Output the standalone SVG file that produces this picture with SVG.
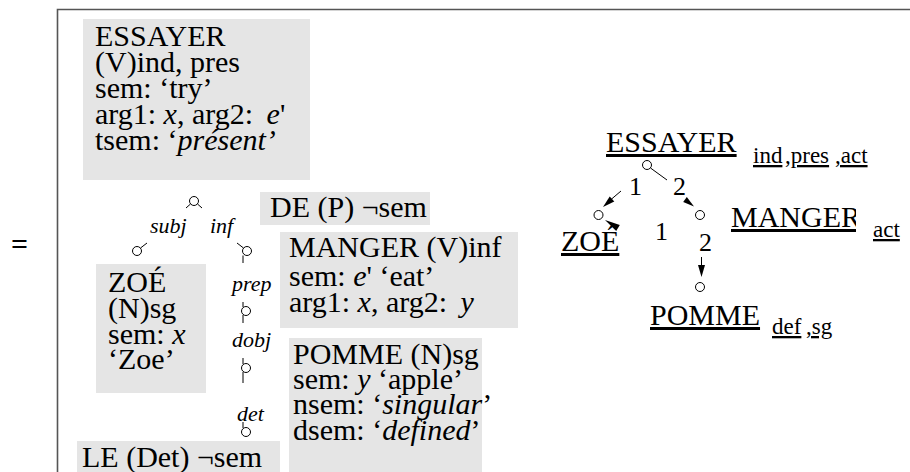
<svg xmlns="http://www.w3.org/2000/svg" width="910" height="472" viewBox="0 0 910 472">
<style>
.box{fill:#e5e5e5}
.t{font-family:"Liberation Serif","Times New Roman",serif;font-size:30px;fill:#000}
.lab{font-family:"Liberation Serif","Times New Roman",serif;font-size:22px;font-style:italic;fill:#000}
.num{font-family:"Liberation Serif","Times New Roman",serif;font-size:26px;fill:#000}
.sub{font-family:"Liberation Serif","Times New Roman",serif;font-size:23px;fill:#000;text-decoration:underline}
.ul{text-decoration:underline}
.i{font-style:italic}
.node{fill:#fff;stroke:#000;stroke-width:1}
.edge{stroke:#000;stroke-width:1;fill:none}
.ah{fill:#000;stroke:none}
.frame{stroke:#555;stroke-width:1.6;fill:none}
</style>
<defs>
<clipPath id="clipR"><rect x="700" y="180" width="156" height="70"/></clipPath>
</defs>
<path class="frame" d="M57.5,472 V9.5 H910"/>
<text class="t" x="11" y="254" font-size="32" font-weight="bold">=</text>

<g id="left-essayer">
<rect class="box" x="83" y="19" width="227" height="161"/>
<text class="t" x="95" y="46">ESSAYER</text>
<text class="t" x="95" y="72">(V)ind, pres</text>
<text class="t" x="95" y="98">sem: ‘try’</text>
<text class="t" x="95" y="124">arg1: <tspan class="i">x</tspan>, arg2: <tspan class="i" dx="6">e</tspan>'</text>
<text class="t" x="95" y="150">tsem: ‘<tspan class="i">présent’</tspan></text>
<circle class="node" cx="194" cy="201" r="4.5"/>
</g>
<g id="left-de">
<rect class="box" x="260" y="192" width="170" height="33"/>
<text class="t" x="270" y="217">DE (P) ¬sem</text>
</g>
<g id="left-manger">
<rect class="box" x="280" y="232" width="238" height="96"/>
<text class="t" x="289" y="257">MANGER (V)inf</text>
<text class="t" x="289" y="286">sem: <tspan class="i">e</tspan>' ‘eat’</text>
<text class="t" x="289" y="312">arg1: <tspan class="i">x</tspan>, arg2: <tspan class="i" dx="6">y</tspan></text>
<circle class="node" cx="247" cy="251" r="4.5"/>
</g>
<g id="left-zoe">
<rect class="box" x="96" y="264" width="110" height="129"/>
<text class="t" x="108" y="292">ZOÉ</text>
<text class="t" x="108" y="318">(N)sg</text>
<text class="t" x="108" y="344">sem: <tspan class="i">x</tspan></text>
<text class="t" x="108" y="369">‘Zoe’</text>
<circle class="node" cx="137" cy="251" r="4.5"/>
</g>
<g id="left-prep-node">
<circle class="node" cx="246" cy="311" r="4.5"/>
</g>
<g id="left-pomme">
<rect class="box" x="289" y="338" width="193" height="134"/>
<text class="t" x="293" y="364">POMME (N)sg</text>
<text class="t" x="293" y="389">sem: <tspan class="i">y</tspan> ‘apple’</text>
<text class="t" x="293" y="414">nsem: ‘<tspan class="i">singular</tspan>’</text>
<text class="t" x="293" y="440">dsem: ‘<tspan class="i">defined</tspan>’</text>
<circle class="node" cx="246" cy="368" r="4.5"/>
</g>
<g id="left-le">
<rect class="box" x="77" y="441" width="203" height="31"/>
<text class="t" x="82" y="467">LE (Det) ¬sem</text>
<circle class="node" cx="246" cy="432" r="4.5"/>
</g>

<g id="left-connectors">
<line class="edge" x1="190.5" y1="204" x2="186" y2="208"/>
<line class="edge" x1="197.5" y1="204" x2="202" y2="208"/>
<line class="edge" x1="140.5" y1="248" x2="147" y2="243"/>
<line class="edge" x1="243.5" y1="248" x2="237" y2="243"/>
<line class="edge" x1="243" y1="255.5" x2="243" y2="263"/>
<line class="edge" x1="243" y1="302" x2="243" y2="307"/>
<line class="edge" x1="243" y1="315" x2="243" y2="323"/>
<line class="edge" x1="243" y1="358" x2="243" y2="364"/>
<line class="edge" x1="243" y1="372" x2="243" y2="383"/>
<line class="edge" x1="243" y1="422" x2="243" y2="428"/>
<text class="lab" x="150" y="233">subj</text>
<text class="lab" x="210" y="233">inf</text>
<text class="lab" x="232" y="291">prep</text>
<text class="lab" x="232" y="347">dobj</text>
<text class="lab" x="237" y="421">det</text>
</g>

<g id="right-essayer">
<text class="t ul" x="606" y="152">ESSAYER</text>
<text class="sub" x="753" y="163">ind</text>
<text class="sub" x="785" y="163">,pres</text>
<text class="sub" x="835" y="163">,act</text>
<circle class="node" cx="647" cy="165" r="4.5"/>
</g>
<g id="right-zoe">
<text class="t ul" x="561" y="251">ZOÉ</text>
<circle class="node" cx="598.5" cy="215" r="4.5"/>
</g>
<g id="right-manger">
<text class="t ul" x="731" y="227" clip-path="url(#clipR)">MANGER</text>
<text class="sub" x="873" y="237">act</text>
<circle class="node" cx="700" cy="215" r="4.5"/>
</g>
<g id="right-pomme">
<text class="t ul" x="650" y="325">POMME</text>
<text class="sub" x="772" y="334">def</text>
<text class="sub" x="806" y="334">,sg</text>
<circle class="node" cx="700" cy="287" r="4.5"/>
</g>

<g id="right-connectors">
<line class="edge" x1="650.5" y1="168" x2="667" y2="180"/>
<line class="edge" x1="621" y1="191" x2="611" y2="199.5"/>
<polygon class="ah" points="603,207 614.3,201.6 609.7,196.4"/>
<polygon class="ah" points="605,220 619.8,225 616.2,231"/>
<polygon class="ah" points="694,206.5 683.2,201.9 686.8,197.1"/>
<line class="edge" x1="701.5" y1="257" x2="701.5" y2="267"/>
<polygon class="ah" points="701.5,277 698,265 705,265"/>
<text class="num" x="629" y="195">1</text>
<text class="num" x="673" y="195">2</text>
<text class="num" x="655" y="240">1</text>
<text class="num" x="699" y="251">2</text>
</g>
</svg>
